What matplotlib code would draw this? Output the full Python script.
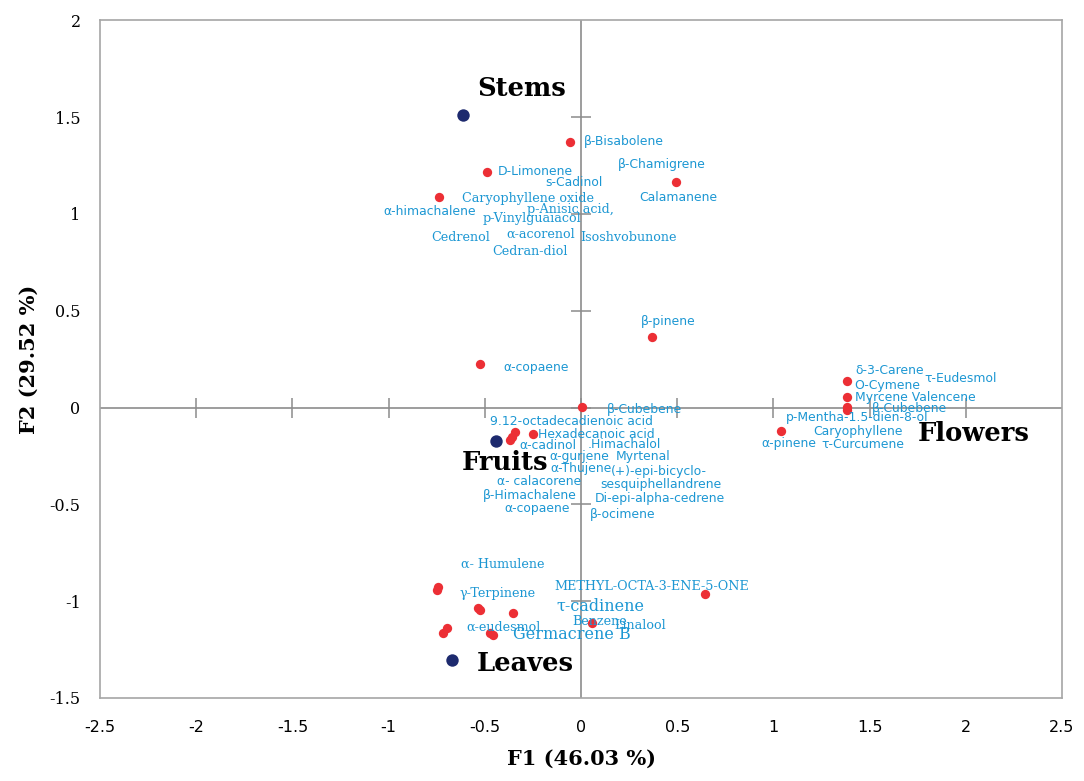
import numpy as np
import matplotlib
matplotlib.use("Agg")
import matplotlib.pyplot as plt

# observations (blue points)
obs_names = ["Stems", "Fruits", "Leaves", "Flowers"]
obs_x = [-0.615, -0.444, -0.672]
obs_y = [1.51, -0.173, -1.304]

# variables (red points)
var_x = [-0.055, -0.49, 0.496, -0.74, 0.371, -0.527, 0.003,
         -0.345, -0.36, -0.371, -0.252,
         1.384, 1.384, 1.384, 1.384, 1.041,
         -0.75, -0.745, -0.527, -0.537, -0.356, -0.698, -0.719,
         -0.46, -0.475, 0.055, 0.646]
var_y = [1.37, 1.214, 1.164, 1.086, 0.363, 0.224, 0.002,
         -0.127, -0.153, -0.168, -0.137,
         0.136, 0.054, 0.002, -0.013, -0.122,
         -0.942, -0.927, -1.046, -1.036, -1.061, -1.139, -1.165,
         -1.175, -1.165, -1.113, -0.963]

# variable labels: (text, x, y, serif?)
labels = [
    ("β-Bisabolene", 0.013, 1.375, False),
    ("β-Chamigrene", 0.19, 1.257, False),
    ("D-Limonene", -0.434, 1.22, False),
    ("s-Cadinol", -0.184, 1.163, False),
    ("Calamanene", 0.304, 1.086, False),
    ("Caryophyllene oxide", -0.62, 1.081, True),
    ("α-himachalene", -1.025, 1.014, False),
    ("p-Anisic acid,", -0.283, 1.024, True),
    ("p-Vinylguaiacol", -0.511, 0.978, True),
    ("Cedrenol", -0.776, 0.88, True),
    ("α-acorenol", -0.387, 0.895, True),
    ("Isoshvobunone", -0.003, 0.88, True),
    ("Cedran-diol", -0.46, 0.807, True),
    ("β-pinene", 0.309, 0.446, False),
    ("α-copaene", -0.402, 0.209, False),
    ("δ-3-Carene", 1.425, 0.193, False),
    ("τ-Eudesmol", 1.783, 0.152, False),
    ("O-Cymene", 1.42, 0.116, False),
    ("Myrcene Valencene", 1.425, 0.054, False),
    ("β-Cubebene", 1.513, -0.003, False),
    ("p-Mentha-1.5-dien-8-ol", 1.067, -0.05, False),
    ("Caryophyllene", 1.207, -0.122, False),
    ("α-pinene", 0.937, -0.184, False),
    ("τ-Curcumene", 1.249, -0.189, False),
    ("β-Cubebene", 0.132, -0.008, False),
    ("9.12-octadecadienoic acid", -0.475, -0.07, False),
    ("Hexadecanoic acid", -0.226, -0.137, False),
    ("α-cadinol", -0.319, -0.194, False),
    (".Himachalol", 0.034, -0.189, False),
    ("α-gurjene", -0.164, -0.251, False),
    ("Myrtenal", 0.179, -0.251, False),
    ("α-Thujene", -0.158, -0.313, False),
    ("(+)-epi-bicyclo-", 0.153, -0.328, False),
    ("sesquiphellandrene", 0.101, -0.40, False),
    ("α- calacorene", -0.439, -0.38, False),
    ("β-Himachalene", -0.511, -0.452, False),
    ("Di-epi-alpha-cedrene", 0.07, -0.468, False),
    ("α-copaene", -0.397, -0.519, False),
    ("β-ocimene", 0.044, -0.55, False),
    ("α- Humulene", -0.626, -0.808, True),
    ("γ-Terpinene", -0.631, -0.958, True),
    ("METHYL-OCTA-3-ENE-5-ONE", -0.138, -0.922, True),
    ("τ-cadinene", -0.127, -1.025, True),
    ("Benzene", -0.044, -1.103, True),
    ("Linalool", 0.174, -1.124, True),
    ("α-eudesmol", -0.594, -1.134, True),
    ("Germacrene B", -0.356, -1.170, True),
]
obs_label_pos = [(-0.309, 1.649), (-0.397, -0.282), (-0.288, -1.32), (2.043, -0.132)]

xticks = [-2.5, -2, -1.5, -1, -0.5, 0, 0.5, 1, 1.5, 2, 2.5]
yticks = [-1.5, -1, -0.5, 0, 0.5, 1, 1.5, 2]

blue = "#1c97d3"
fig = plt.figure(figsize=(10.84, 7.81), dpi=100)
ax = fig.add_axes([0.0923, 0.1063, 0.8874, 0.8677])
ax.set_xlim(-2.5, 2.5)
ax.set_ylim(-1.5, 2)

ax.axhline(0, color="#8c8c8c", lw=1.2, zorder=1)
ax.axvline(0, color="#8c8c8c", lw=1.2, zorder=1)
# small ticks on the zero lines
ax.plot(xticks[1:-1], np.zeros(len(xticks) - 2), ls="none", marker="|",
        ms=14, mew=1.1, color="#8c8c8c", zorder=1)
ax.plot(np.zeros(len(yticks) - 2), yticks[1:-1], ls="none", marker="_",
        ms=14, mew=1.1, color="#8c8c8c", zorder=1)

ax.scatter(var_x, var_y, s=45, color="#ec2f35", zorder=3, linewidths=0)
ax.scatter(obs_x, obs_y, s=80, color="#1d2a6e", zorder=3, linewidths=0)

for txt, lx, ly, serif in labels:
    if serif:
        big = txt in ("τ-cadinene", "Germacrene B")
        ax.text(lx, ly, txt, color=blue, ha="left", va="center",
                family="DejaVu Serif", fontsize=11.5 if big else 9.2, zorder=4)
    else:
        ax.text(lx, ly, txt, color=blue, ha="left", va="center",
                family="DejaVu Sans", fontsize=8.9, zorder=4)

for name, (lx, ly) in zip(obs_names, obs_label_pos):
    ax.text(lx, ly, name, ha="center", va="center", family="DejaVu Serif",
            fontweight="bold", fontsize=18.5, color="black", zorder=5)

for sp in ax.spines.values():
    sp.set_color("#a6a6a6")
    sp.set_linewidth(1.2)

ax.set_xticks(xticks)
ax.set_xticklabels([f"{t:g}" for t in xticks], family="DejaVu Sans", fontsize=11.5)
ax.set_yticks(yticks)
ax.set_yticklabels([f"{t:g}" for t in yticks], family="DejaVu Serif", fontsize=11.5)
ax.tick_params(axis="both", length=0)
ax.tick_params(axis="x", pad=16)
ax.tick_params(axis="y", pad=14)

ax.set_xlabel("F1 (46.03 %)", family="DejaVu Serif", fontweight="bold", fontsize=15, labelpad=10)
ax.set_ylabel("F2 (29.52 %)", family="DejaVu Serif", fontweight="bold", fontsize=15, labelpad=8)

fig.savefig("out.png", dpi=100)
